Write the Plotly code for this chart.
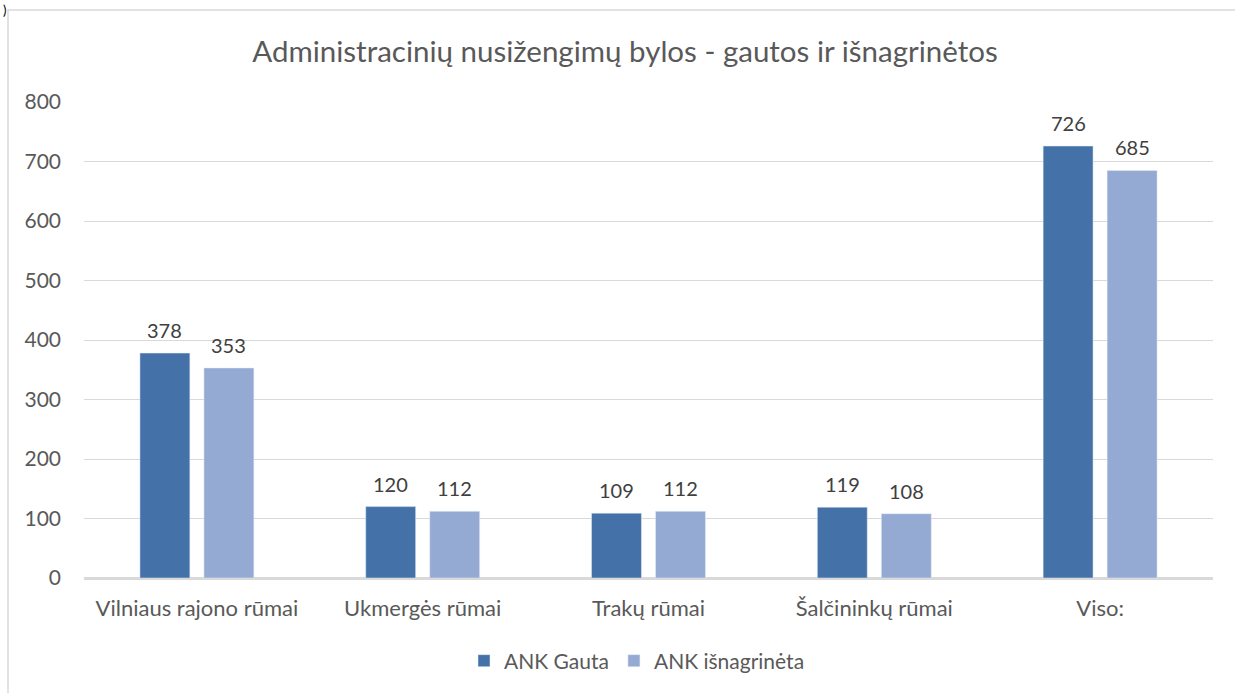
import plotly.graph_objects as go

categories = ["Vilniaus rajono rūmai", "Ukmergės rūmai", "Trakų rūmai", "Šalčininkų rūmai", "Viso:"]
gauta = [378, 120, 109, 119, 726]
isnagrineta = [353, 112, 112, 108, 685]
y_ticks = [0, 100, 200, 300, 400, 500, 600, 700, 800]

FONT = "Lato, 'Open Sans', sans-serif"
W, H = 1235, 693
L, R, T, B = 84, 22, 102, 115
pw, ph = W - L - R, H - T - B

fig = go.Figure()
fig.add_trace(go.Bar(x=categories, y=gauta, name="ANK Gauta", marker_color="#4472A8"))
fig.add_trace(go.Bar(x=categories, y=isnagrineta, name="ANK išnagrinėta", marker_color="#95AAD2"))

# data labels as annotations positioned from the data
for series, shift in ((gauta, -32), (isnagrineta, 32)):
    for c, v in zip(categories, series):
        fig.add_annotation(x=c, y=v, text=str(v), xshift=shift, yshift=9,
                           yanchor="bottom", showarrow=False,
                           font=dict(size=20, color="#404040", family=FONT))

fig.update_layout(
    width=W, height=H,
    margin=dict(l=L, r=R, t=T, b=B),
    paper_bgcolor="white", plot_bgcolor="white",
    font=dict(family=FONT, color="#595959", size=20),
    title=dict(text="Administracinių nusižengimų bylos - gautos ir išnagrinėtos",
               x=625 / W, xanchor="center", y=1 - 52 / H, yanchor="middle",
               font=dict(size=29.5, color="#595959", family=FONT)),
    barmode="group", bargap=0.433, bargroupgap=0.22,
    showlegend=True,
    legend=dict(orientation="h", x=(637 - L) / pw, xanchor="center",
                y=(0 - (661 - 578)) / ph, yanchor="middle",
                font=dict(size=21, color="#595959", family=FONT), itemwidth=30),
    xaxis=dict(showline=True, linecolor="#D9D9D9", linewidth=1.5, ticks="",
               tickfont=dict(size=22, color="#595959"), ticklabelstandoff=10),
    yaxis=dict(range=[0, 800], tickvals=y_ticks, showgrid=True, gridcolor="#D9D9D9", gridwidth=1,
               zeroline=True, zerolinecolor="#D9D9D9", zerolinewidth=1.5, ticks="", showline=False,
               tickfont=dict(size=21, color="#595959"), ticklabelstandoff=22),
)

fig.add_shape(type="rect", xref="paper", yref="paper",
              x0=(8 - L) / pw, x1=(W + 5 - L) / pw,
              y0=-(B + 5) / ph, y1=1 + (T - 10) / ph,
              line=dict(color="#D9D9D9", width=1.5), fillcolor="rgba(0,0,0,0)", layer="below")
fig.add_annotation(text=")", xref="paper", yref="paper", x=(1 - L) / pw, y=1 + T / ph,
                   xanchor="left", yanchor="top", showarrow=False,
                   font=dict(size=13, color="#000000", family=FONT))

fig.write_html("out.html", config={"displayModeBar": False},
               post_script="document.body.style.margin='0';")
